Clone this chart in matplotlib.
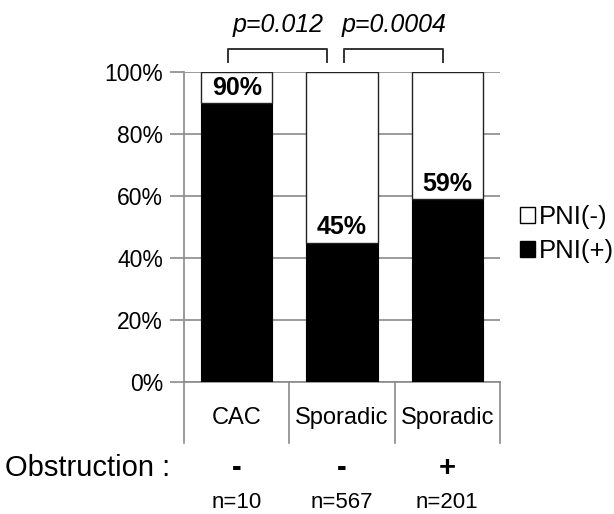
import matplotlib
matplotlib.use("Agg")
import matplotlib.pyplot as plt
from matplotlib.patches import Patch

plt.rcParams['font.family'] = ['Liberation Sans', 'DejaVu Sans']

categories = ["CAC", "Sporadic", "Sporadic"]
obstruction = ["-", "-", "+"]
n_labels = ["n=10", "n=567", "n=201"]
pni_pos = [90, 45, 59]
pni_neg = [10, 55, 41]
bar_labels = ["90%", "45%", "59%"]
yticks = [0, 20, 40, 60, 80, 100]
ytick_labels = ["0%", "20%", "40%", "60%", "80%", "100%"]
p_values = ["p=0.012", "p=0.0004"]

fig = plt.figure(figsize=(6.14, 5.14), dpi=100)
ax = fig.add_axes([184/614, 1-382/514, (500-184)/614, (382-72)/514])

x = list(range(len(categories)))
w = 0.675
grid_c = "#8a8a8a"

ax.bar(x, pni_pos, width=w, color="black", edgecolor="black", linewidth=0.8, zorder=3)
ax.bar(x, pni_neg, bottom=pni_pos, width=w, color="white", edgecolor="#222222", linewidth=1.0, zorder=3)

ax.set_xlim(-0.5, 2.5)
ax.set_ylim(0, 100)
ax.set_yticks(yticks)
ax.set_yticklabels(ytick_labels, fontsize=16.5)
ax.set_xticks([])
ax.yaxis.grid(True, color=grid_c, linewidth=1.2, zorder=0)
ax.tick_params(axis='y', length=10, width=1.2, color=grid_c, pad=5)
for s in ["top", "right"]:
    ax.spines[s].set_visible(False)
ax.spines["left"].set_color(grid_c)
ax.spines["left"].set_linewidth(1.2)
ax.spines["bottom"].set_color(grid_c)
ax.spines["bottom"].set_linewidth(1.2)

# bar value labels
for xi, v, lab in zip(x, pni_pos, bar_labels):
    ax.text(xi, v + 5, lab, ha="center", va="center", fontsize=18, fontweight="bold", zorder=4)

# category table separators
for sx in [-0.5, 0.5, 1.5, 2.5]:
    ax.plot([sx, sx], [0, -19.7], color=grid_c, linewidth=1.2, clip_on=False)

for xi, cat, ob, nl in zip(x, categories, obstruction, n_labels):
    ax.text(xi, -11.6, cat, ha="center", va="center", fontsize=17, clip_on=False)
    ax.text(xi, -27.7, ob, ha="center", va="center", fontsize=21, fontweight="bold", clip_on=False)
    ax.text(xi, -39, nl, ha="center", va="center", fontsize=16, clip_on=False)

ax.text(-0.633, -27.7, "Obstruction :", ha="right", va="center", fontsize=21, clip_on=False)

# significance brackets
brackets = [(-0.08, 0.86), (1.02, 1.96)]
for (bx0, bx1), pv in zip(brackets, p_values):
    ax.plot([bx0, bx0, bx1, bx1], [103.2, 107.4, 107.4, 103.2], color="#333333", linewidth=1.4, clip_on=False)
    ax.text((bx0 + bx1) / 2, 115.2, pv, ha="center", va="center", fontsize=18, style="italic", clip_on=False)

handles = [Patch(facecolor="white", edgecolor="black", linewidth=1.0, label="PNI(-)"),
           Patch(facecolor="black", edgecolor="black", label="PNI(+)")]
fig.legend(handles=handles, loc="center left", bbox_to_anchor=(520/614, 1-234/514),
           frameon=False, fontsize=18.5, handlelength=0.6, handleheight=0.6,
           handletextpad=0.15, borderpad=0, borderaxespad=0, labelspacing=0.4)

fig.savefig("out.png", dpi=100)
